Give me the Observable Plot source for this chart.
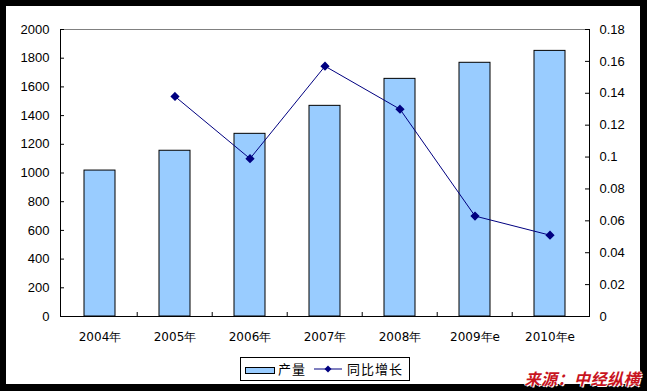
<!DOCTYPE html>
<html>
<head>
<meta charset="utf-8">
<script src="https://cdn.jsdelivr.net/npm/d3@7"></script>
<script src="https://cdn.jsdelivr.net/npm/@observablehq/plot@0.6"></script>
<style>
  html, body { margin: 0; padding: 0; background: #000; width: 647px; height: 391px; overflow: hidden; }
  #paper { position: absolute; left: 6px; top: 6px; width: 634px; height: 378px; background: #fff; }
  #chart { position: absolute; left: 0; top: 0; }
  #legend { position: absolute; left: 240px; top: 357px; width: 168px; height: 22px; border: 1px solid #000; background: #fff;
            font-family: "Noto Sans CJK SC", sans-serif; font-size: 13px; color: #000; }
  #legend .patch { position: absolute; left: 4px; top: 9px; width: 28px; height: 5px; background: #99ccff; border: 1px solid #000; }
  #legend .t1 { position: absolute; left: 37px; top: 1px; letter-spacing: 1px; line-height: 20px; }
  #legend svg { position: absolute; left: 73px; top: 6px; }
  #legend .t2 { position: absolute; left: 106px; top: 1px; letter-spacing: 1px; line-height: 20px; }
  #source { position: absolute; right: 7px; top: 368px; font-family: "Noto Sans CJK SC", sans-serif; font-size: 16px;
            font-weight: bold; font-style: italic; color: #c8141e; letter-spacing: 0.5px;
            text-shadow: 1px 1px 0 #fff, -1px 0 0 #fff, 0 -1px 0 #fff; line-height: 20px; }
</style>
</head>
<body>
<div id="paper"></div>
<div id="chart"></div>
<div id="legend">
  <div class="patch"></div>
  <div class="t1">产量</div>
  <svg width="28" height="10"><line x1="0" y1="5" x2="28" y2="5" stroke="#000080" stroke-width="1"/><path d="M14,1.5L17.5,5L14,8.5L10.5,5Z" fill="#000080"/></svg>
  <div class="t2">同比增长</div>
</div>
<div id="source">来源：中经纵横</div>
<script>
const categories = ["2004年", "2005年", "2006年", "2007年", "2008年", "2009年e", "2010年e"];
const output = [1017, 1155, 1273, 1468, 1656, 1768, 1851];
const growthCategories = ["2005年", "2006年", "2007年", "2008年", "2009年e", "2010年e"];
const growth = [0.138, 0.099, 0.157, 0.130, 0.063, 0.051];
const leftTicks = [0, 200, 400, 600, 800, 1000, 1200, 1400, 1600, 1800, 2000];
const rightTicks = [0, 0.02, 0.04, 0.06, 0.08, 0.1, 0.12, 0.14, 0.16, 0.18];

const W = 647, H = 391, mL = 60, mR = 58, mT = 29, mB = 75;
const k = 2000 / 0.18; // right axis -> left axis units
const step = (W - mL - mR) / categories.length;

const bars = categories.map((c, i) => ({cat: c, v: output[i]}));
const line = growthCategories.map((c, i) => ({cat: c, g: growth[i]}));

const chart = Plot.plot({
  width: W, height: H,
  marginLeft: mL, marginRight: mR, marginTop: mT, marginBottom: mB,
  style: {background: "transparent", overflow: "visible"},
  x: {domain: categories, paddingInner: 0.59, paddingOuter: 0.295},
  y: {domain: [0, 2000]},
  marks: [
    Plot.barY(bars, {x: "cat", y: "v", fill: "#99ccff", stroke: "#000", strokeWidth: 1}),
    Plot.frame({stroke: "#000"}),
    Plot.ruleY([2000], {stroke: "#808080"}),
    Plot.tickY(leftTicks, {y: d => d, insetRight: W - mL - mR - 4, stroke: "#000"}),
    Plot.tickY(rightTicks, {y: d => d * k, insetLeft: W - mL - mR - 4, stroke: "#000"}),
    Plot.tickX(categories.slice(1), {x: d => d, dx: -step / 2, insetTop: H - mT - mB - 4, stroke: "#000"}),
    Plot.line(line, {x: "cat", y: d => d.g * k, stroke: "#000080", strokeWidth: 1}),
    Plot.dot(line, {x: "cat", y: d => d.g * k, symbol: "diamond2", r: 3.2, fill: "#000080", stroke: "#000080"}),
    Plot.axisY({anchor: "left", ticks: leftTicks, tickSize: 0, tickPadding: 11, label: null,
      tickFormat: d => String(d),
      fontSize: 13, fontFamily: "Liberation Sans, Arial, sans-serif", fill: "#000", letterSpacing: 0.3}),
    Plot.axisY({anchor: "right", ticks: rightTicks.map(t => t * k), tickSize: 0, tickPadding: 10, label: null,
      tickFormat: v => String(+(v / k).toFixed(2)),
      fontSize: 13, fontFamily: "Liberation Sans, Arial, sans-serif", fill: "#000", letterSpacing: 1}),
    Plot.axisX({tickSize: 0, tickPadding: 16, label: null,
      fontSize: 12, fontFamily: "DejaVu Sans, sans-serif", fill: "#000", letterSpacing: 0.5})
  ]
});
document.getElementById("chart").appendChild(chart);
</script>
</body>
</html>
